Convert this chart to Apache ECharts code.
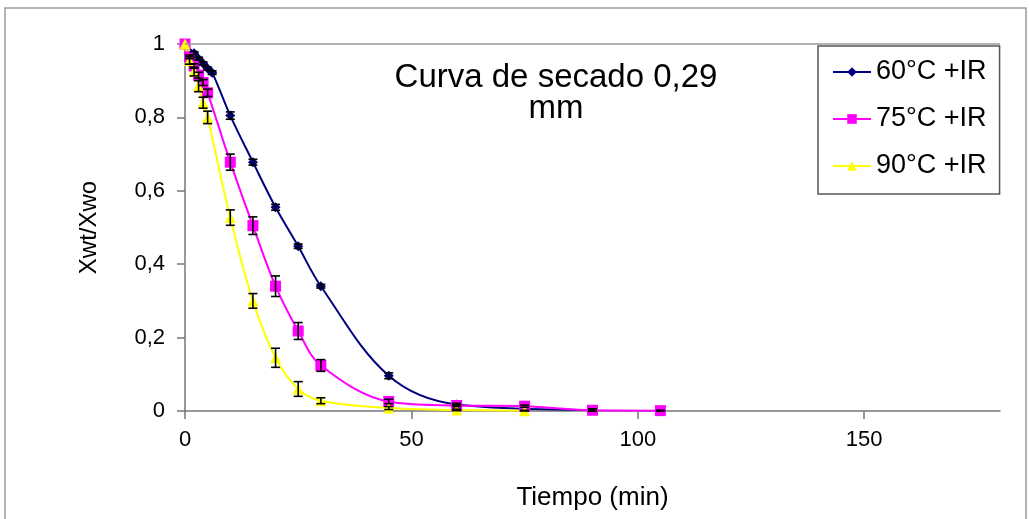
<!DOCTYPE html>
<html>
<head>
<meta charset="utf-8">
<script src="https://cdn.jsdelivr.net/npm/echarts@6/dist/echarts.min.js"></script>
<style>
html,body{margin:0;padding:0;background:#fff;}
#main{width:1029px;height:519px;}
</style>
</head>
<body>
<div id="main"></div>
<script>
// datos
var time60 = [0, 2, 3, 4, 5, 6, 10, 15, 20, 25, 30, 45, 60, 90];
var x60 = [1, 0.975, 0.96, 0.947, 0.933, 0.922, 0.805, 0.678, 0.555, 0.449, 0.34, 0.096, 0.018, 0.003];
var err60 = [0, 0.004, 0.004, 0.004, 0.004, 0.005, 0.01, 0.008, 0.008, 0.006, 0.005, 0.008, 0.003, 0.003];

var time75 = [0, 1, 2, 3, 4, 5, 10, 15, 20, 25, 30, 45, 60, 75, 90, 105];
var x75 = [1, 0.965, 0.94, 0.915, 0.895, 0.867, 0.678, 0.505, 0.34, 0.218, 0.124, 0.026, 0.015, 0.013, 0.002, 0.001];
var err75 = [0, 0.005, 0.006, 0.008, 0.008, 0.01, 0.022, 0.024, 0.028, 0.023, 0.016, 0.006, 0.003, 0.003, 0.002, 0.001];

var time90 = [0, 1, 2, 3, 4, 5, 10, 15, 20, 25, 30, 45, 60, 75];
var x90 = [1, 0.955, 0.925, 0.885, 0.84, 0.8, 0.527, 0.3, 0.145, 0.06, 0.028, 0.008, 0.003, 0.001];
var err90 = [0, 0.01, 0.012, 0.015, 0.015, 0.017, 0.021, 0.02, 0.026, 0.02, 0.008, 0.004, 0.002, 0.001];

var names = ['60°C +IR', '75°C +IR', '90°C +IR'];
var xTicks = [0, 50, 100, 150];
var yTicks = [0, 0.2, 0.4, 0.6, 0.8, 1];

var font = "'Liberation Sans', Arial, sans-serif";

function pares(t, v) {
	var out = [];
	for (var i = 0; i < t.length; i++) out.push([t[i], v[i]]);
	return out;
}
function barras(t, v, e) {
	var out = [];
	for (var i = 0; i < t.length; i++) out.push([t[i], v[i], e[i]]);
	return out;
}

function errorItem(params, api) {
	var x = api.value(0), y = api.value(1), e = api.value(2);
	if (!e) return;
	var lo = api.coord([x, y - e]);
	var hi = api.coord([x, y + e]);
	var w = 4.5;
	var st = { stroke: '#000', lineWidth: 1.6 };
	return {
		type: 'group',
		children: [
			{ type: 'line', shape: { x1: lo[0], y1: lo[1], x2: hi[0], y2: hi[1] }, style: st },
			{ type: 'line', shape: { x1: lo[0] - w, y1: lo[1], x2: lo[0] + w, y2: lo[1] }, style: st },
			{ type: 'line', shape: { x1: hi[0] - w, y1: hi[1], x2: hi[0] + w, y2: hi[1] }, style: st }
		]
	};
}

function lineSerie(name, data, color, symbol, size) {
	return {
		name: name,
		type: 'line',
		data: data,
		smooth: 0.35,
		symbol: symbol,
		symbolSize: size,
		showAllSymbol: true,
		lineStyle: { color: color, width: 2 },
		itemStyle: { color: color },
		z: 3
	};
}
function errSerie(data) {
	return {
		type: 'custom',
		renderItem: errorItem,
		data: data,
		silent: true,
		z: 4,
		encode: { x: 0, y: 1 }
	};
}

var chart = echarts.init(document.getElementById('main'));
var option = {
	animation: false,
	backgroundColor: '#fff',
	textStyle: { fontFamily: font },
	graphic: [
		{ type: 'rect', shape: { x: 5, y: 8, width: 1021, height: 520 }, style: { fill: 'none', stroke: '#9a9a9a', lineWidth: 1.5 }, silent: true }
	],
	title: {
		text: 'Curva de secado 0,29\nmm',
		left: 551,
		top: 57,
		textAlign: 'center',
		textStyle: { fontFamily: font, fontSize: 33, fontWeight: 'normal', color: '#000', lineHeight: 31 }
	},
	legend: {
		orient: 'vertical',
		left: 818,
		top: 46,
		padding: [11, 13, 13, 14],
		itemGap: 17,
		itemWidth: 38,
		itemHeight: 12,
		backgroundColor: '#fff',
		borderColor: '#555',
		borderWidth: 1.5,
		data: names,
		textStyle: { fontFamily: font, fontSize: 27, color: '#000', lineHeight: 30 }
	},
	grid: { left: 185, right: 29, top: 44, bottom: 108, outerBoundsMode: 'none' },
	xAxis: {
		type: 'value',
		min: 0,
		max: 180,
		interval: 50,
		name: 'Tiempo (min)',
		nameLocation: 'middle',
		nameGap: 74,
		nameTextStyle: { fontFamily: font, fontSize: 26, color: '#000' },
		axisLine: { lineStyle: { color: '#777', width: 1.5 } },
		axisTick: { show: true, length: 8, inside: false, customValues: xTicks, lineStyle: { color: '#777', width: 1.5 } },
		axisLabel: { customValues: xTicks, fontFamily: font, fontSize: 22, color: '#000', margin: 18 },
		splitLine: { show: false }
	},
	yAxis: {
		type: 'value',
		min: 0,
		max: 1,
		interval: 0.2,
		name: 'Xwt/Xwo',
		nameLocation: 'middle',
		nameGap: 84,
		nameTextStyle: { fontFamily: font, fontSize: 24, color: '#000' },
		axisLine: { show: true, lineStyle: { color: '#777', width: 1.5 } },
		axisTick: { show: true, length: 8, customValues: yTicks, lineStyle: { color: '#777', width: 1.5 } },
		axisLabel: {
			customValues: yTicks,
			fontFamily: font, fontSize: 22, color: '#000', margin: 20,
			formatter: function (v) { return String(Math.round(v * 10) / 10).replace('.', ','); }
		},
		splitLine: { show: false }
	},
	series: [
		lineSerie(names[0], pares(time60, x60), '#000080', 'diamond', 10),
		lineSerie(names[1], pares(time75, x75), '#ff00ff', 'rect', 11),
		lineSerie(names[2], pares(time90, x90), '#ffff00', 'triangle', 11),
		errSerie(barras(time60, x60, err60)),
		errSerie(barras(time75, x75, err75)),
		errSerie(barras(time90, x90, err90)),
		{
			type: 'line',
			data: [],
			silent: true,
			markLine: {
				silent: true,
				symbol: 'none',
				label: { show: false },
				lineStyle: { color: '#999', type: 'solid', width: 1.5 },
				data: [{ yAxis: 1 }]
			},
			z: 1
		}
	]
};
chart.setOption(option);
</script>
</body>
</html>
